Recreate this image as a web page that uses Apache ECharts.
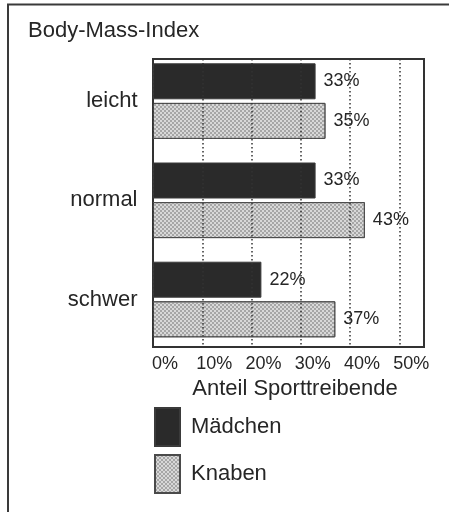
<!DOCTYPE html>
<html>
<head>
<meta charset="utf-8">
<script src="https://cdn.jsdelivr.net/npm/echarts@6/dist/echarts.min.js"></script>
<style>
html,body{margin:0;padding:0;background:#fff;}
#chart{width:449px;height:512px;}
</style>
</head>
<body>
<div id="chart"></div>
<script>
// Daten
var categories = ['leicht', 'normal', 'schwer'];
var maedchen = [33, 33, 22];
var knaben = [35, 43, 37];
var tickValues = [0, 10, 20, 30, 40, 50];

var font = '"Liberation Sans", Arial, Helvetica, sans-serif';
var textColor = '#262626';

var chart = echarts.init(document.getElementById('chart'));

var option = {
	backgroundColor: '#fff',
	animation: false,
	title: {
		text: 'Body-Mass-Index',
		left: 28,
		top: 20,
		padding: 0,
		textStyle: {fontFamily: font, fontSize: 22, fontWeight: 'normal', color: textColor}
	},
	legend: {
		orient: 'vertical',
		left: 154,
		top: 407,
		padding: 0,
		itemWidth: 25,
		itemHeight: 38,
		itemGap: 7,
		icon: 'rect',
		data: ['Mädchen', 'Knaben'],
		textStyle: {fontFamily: font, fontSize: 22, color: textColor, padding: [0, 0, 0, 6]}
	},
	graphic: [{
		// Rahmen um die ganze Grafik (nur links und oben sichtbar)
		type: 'rect',
		shape: {x: 8, y: 4.5, width: 600, height: 700},
		style: {fill: 'none', stroke: '#3a3a3a', lineWidth: 2}
	}],
	grid: [
		// Balken
		{left: 153, width: 271, top: 51.5, height: 297.6, show: false},
		// Rahmen + Gitterlinien + Achsenbeschriftung
		{left: 153, width: 271, top: 59, height: 288, show: true, borderColor: '#333', borderWidth: 2, backgroundColor: 'transparent', z: 0}
	],
	xAxis: [
		{gridIndex: 0, type: 'value', min: 0, max: 55, show: false},
		{
			gridIndex: 1,
			type: 'value',
			min: 0,
			max: 55,
			interval: 10,
			z: 3,
			axisLine: {show: false},
			axisTick: {show: false},
			splitLine: {show: true, lineStyle: {color: '#333', width: 1.5, type: [1.5, 2.5]}},
			axisLabel: {
				fontFamily: font, fontSize: 18, color: textColor, margin: 8,
				padding: [0, 0, 0, 24],
				showMaxLabel: false,
				formatter: function (v) {
					return tickValues.indexOf(v) >= 0 ? v + '%' : '';
				}
			},
			name: 'Anteil Sporttreibende',
			nameLocation: 'middle',
			nameGap: 31,
			nameTextStyle: {fontFamily: font, fontSize: 22, color: textColor, padding: [0, 0, 0, 13]}
		}
	],
	yAxis: [
		{
			gridIndex: 0,
			type: 'category',
			data: categories,
			inverse: true,
			axisLine: {show: false},
			axisTick: {show: false},
			axisLabel: {fontFamily: font, fontSize: 22, color: textColor, margin: 15.5, padding: [6, 0, 0, 0]}
		},
		{gridIndex: 1, type: 'value', min: 0, max: 1, show: false}
	],
	series: [
		{
			name: 'Mädchen',
			type: 'bar',
			xAxisIndex: 0,
			yAxisIndex: 0,
			barWidth: 36,
			barGap: '10%',
			data: maedchen,
			itemStyle: {color: '#2a2a2a', borderColor: '#3a3a3a', borderWidth: 1},
			label: {
				show: true, position: 'right', distance: 8,
				fontFamily: font, fontSize: 18, color: textColor,
				formatter: '{c}%'
			}
		},
		{
			name: 'Knaben',
			type: 'bar',
			xAxisIndex: 0,
			yAxisIndex: 0,
			barWidth: 36,
			data: knaben,
			itemStyle: {
				color: '#d8d8d8',
				borderColor: '#4a4a4a',
				borderWidth: 1,
				decal: {
					symbol: 'rect',
					symbolSize: 1,
					color: '#a6a6a6',
					dashArrayX: [[2, 2], [0, 2, 2, 0]],
					dashArrayY: [2, 0],
					rotation: 0
				}
			},
			label: {
				show: true, position: 'right', distance: 8,
				fontFamily: font, fontSize: 18, color: textColor,
				formatter: '{c}%'
			}
		}
	]
};

chart.setOption(option);
</script>
</body>
</html>
